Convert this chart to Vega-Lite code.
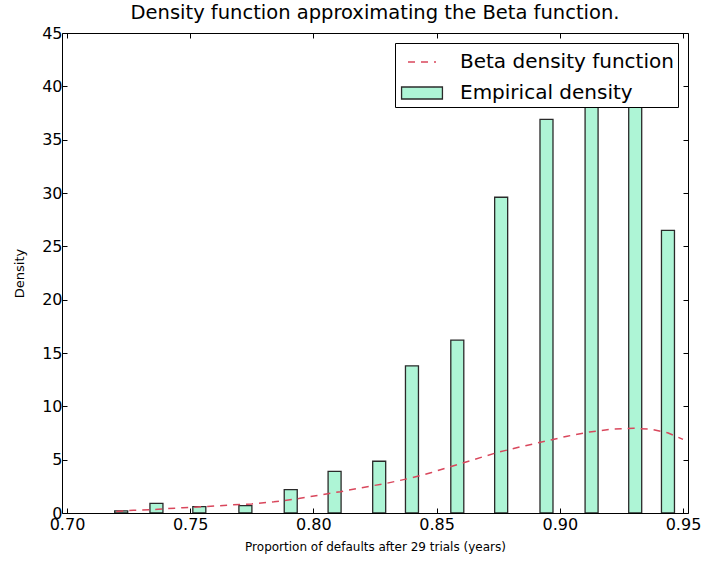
{
  "$schema": "https://vega.github.io/schema/vega-lite/v6.json",
  "width": 626,
  "height": 480,
  "autosize": "none",
  "padding": {"left": 62, "top": 33, "right": 18, "bottom": 52},
  "background": "white",
  "title": {"text": "Density function approximating the Beta function.", "font": "DejaVu Sans", "fontSize": 19.5, "fontWeight": "normal", "color": "#000", "offset": 2, "anchor": "middle"},
  "config": {
    "view": {"stroke": "#000", "strokeWidth": 1},
    "axis": {"labelFont": "DejaVu Sans", "titleFont": "DejaVu Sans", "labelColor": "#000", "titleColor": "#000", "domain": false, "grid": false, "tickColor": "#000", "tickSize": -5, "labelFontSize": 16, "titleFontWeight": "normal"},
    "legend": {
      "orient": "top-right", "offset": 10,
      "fillColor": "white", "strokeColor": "#000", "padding": 4,
      "labelFont": "DejaVu Sans", "labelFontSize": 20, "labelColor": "#000", "labelOffset": 23, "labelLimit": 400,
      "rowPadding": 6, "symbolSize": 784, "symbolOffset": 8, "symbolStrokeWidth": 1.3, "symbolOpacity": 1
    }
  },
  "datasets": {
    "bars": [
      {"x": 0.7220, "density": 0.2},
      {"x": 0.7363, "density": 0.9},
      {"x": 0.7537, "density": 0.6},
      {"x": 0.7724, "density": 0.7},
      {"x": 0.7908, "density": 2.2},
      {"x": 0.8086, "density": 3.9},
      {"x": 0.8267, "density": 4.85},
      {"x": 0.8400, "density": 13.8},
      {"x": 0.8584, "density": 16.2},
      {"x": 0.8762, "density": 29.6},
      {"x": 0.8946, "density": 36.9},
      {"x": 0.9129, "density": 41.5},
      {"x": 0.9306, "density": 40.5},
      {"x": 0.9439, "density": 26.5}
    ],
    "beta": [
      {"x": 0.720, "density": 0.15},
      {"x": 0.727, "density": 0.25},
      {"x": 0.737, "density": 0.35},
      {"x": 0.747, "density": 0.5},
      {"x": 0.757, "density": 0.6},
      {"x": 0.766, "density": 0.75},
      {"x": 0.775, "density": 0.85},
      {"x": 0.784, "density": 1.05},
      {"x": 0.794, "density": 1.35},
      {"x": 0.803, "density": 1.7},
      {"x": 0.811, "density": 2.0},
      {"x": 0.819, "density": 2.35},
      {"x": 0.830, "density": 2.8},
      {"x": 0.840, "density": 3.3},
      {"x": 0.848, "density": 3.8},
      {"x": 0.855, "density": 4.3},
      {"x": 0.865, "density": 5.0},
      {"x": 0.875, "density": 5.7},
      {"x": 0.884, "density": 6.2},
      {"x": 0.8935, "density": 6.7},
      {"x": 0.903, "density": 7.2},
      {"x": 0.912, "density": 7.6},
      {"x": 0.921, "density": 7.85},
      {"x": 0.930, "density": 7.95},
      {"x": 0.937, "density": 7.85},
      {"x": 0.944, "density": 7.5},
      {"x": 0.950, "density": 6.9}
    ],
    "legendkeys": []
  },
  "layer": [
    {
      "data": {"name": "bars"},
      "transform": [{"calculate": "'Empirical density'", "as": "series"}],
      "mark": {"type": "bar", "size": 13, "stroke": "#2a2a2a", "strokeWidth": 1.3, "fillOpacity": 1, "clip": true},
      "encoding": {
        "x": {"field": "x", "type": "quantitative", "scale": {"domain": [0.7, 0.95], "nice": false, "zero": false},
          "axis": {"orient": "bottom", "values": [0.7, 0.75, 0.8, 0.85, 0.9, 0.95], "format": ".2f", "title": "Proportion of defaults after 29 trials (years)", "titleFontSize": 12, "titlePadding": 9, "labelPadding": 8}},
        "y": {"field": "density", "type": "quantitative", "scale": {"domain": [0, 45], "nice": false},
          "axis": {"orient": "left", "values": [0, 5, 10, 15, 20, 25, 30, 35, 40, 45], "title": "Density", "titleFontSize": 13, "titlePadding": 15, "labelPadding": 5}},
        "fill": {"field": "series", "type": "nominal",
          "scale": {"domain": ["Beta density function", "Empirical density"], "range": ["transparent", "#aef5d6"]},
          "legend": {"title": null}}
      }
    },
    {
      "data": {"name": "beta"},
      "transform": [{"calculate": "'Beta density function'", "as": "series"}],
      "mark": {"type": "line", "strokeWidth": 1.5, "clip": true},
      "encoding": {
        "x": {"field": "x", "type": "quantitative", "axis": null},
        "y": {"field": "density", "type": "quantitative", "axis": null},
        "stroke": {"field": "series", "type": "nominal",
          "scale": {"domain": ["Beta density function", "Empirical density"], "range": ["#d9475c", "#2a2a2a"]},
          "legend": {"title": null}},
        "strokeDash": {"field": "series", "type": "nominal",
          "scale": {"domain": ["Beta density function", "Empirical density"], "range": [[7, 6], [1, 0]]},
          "legend": {"title": null}}
      }
    },
    {
      "data": {"name": "legendkeys"},
      "mark": {"type": "point", "filled": false},
      "encoding": {
        "x": {"field": "x", "type": "quantitative", "axis": {"orient": "top", "values": [0.7, 0.75, 0.8, 0.85, 0.9, 0.95], "labels": false, "title": null}},
        "y": {"field": "density", "type": "quantitative", "axis": {"orient": "right", "values": [0, 5, 10, 15, 20, 25, 30, 35, 40, 45], "labels": false, "title": null}},
        "shape": {"field": "series", "type": "nominal",
          "scale": {"domain": ["Beta density function", "Empirical density"], "range": ["stroke", "M-1.46,-0.43H1.46V0.43H-1.46Z"]},
          "legend": {"title": null}}
      }
    }
  ],
  "resolve": {"axis": {"x": "independent", "y": "independent"}}
}
